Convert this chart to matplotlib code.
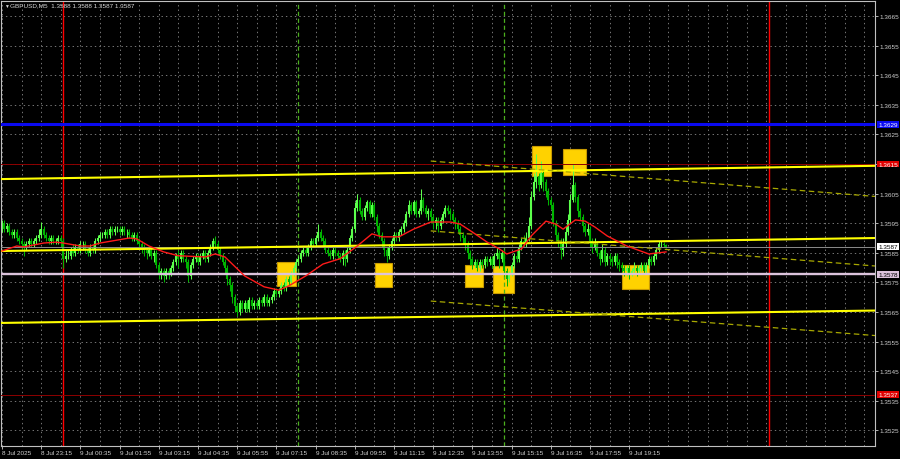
import numpy as np
import matplotlib.pyplot as plt
import matplotlib.transforms as mtransforms
from matplotlib.patches import Rectangle

plt.rcParams['font.family'] = ['Liberation Sans', 'DejaVu Sans']
plt.rcParams['lines.scale_dashes'] = False

# prices are kept in pips above this base level (1 pip = 0.0001)
base = 1.35

# GBPUSD M5 candles, bar 0 = 8 Jul 21:55
first_open = 94
close_pips = [
    95, 93, 94, 92, 91, 92, 90, 89, 88, 87,
    88, 89, 88, 89, 90, 91, 93, 91, 90, 89,
    90, 89, 89, 90, 89, 83, 84, 84, 86, 85,
    87, 86, 88, 88, 86, 85, 87, 86, 89, 90,
    91, 91, 92, 91, 93, 92, 93, 93, 92, 93,
    92, 92, 91, 90, 91, 89, 88, 87, 86, 85,
    86, 84, 85, 81, 78, 79, 77, 79, 78, 80,
    82, 84, 83, 85, 83, 82, 77, 81, 83, 84,
    82, 84, 85, 83, 85, 87, 89, 88, 86, 84,
    82, 80, 76, 74, 70, 67, 65, 68, 66, 68,
    66, 69, 67, 68, 67, 69, 68, 70, 68, 69,
    70, 72, 71, 72, 74, 73, 76, 75, 78, 80,
    82, 83, 85, 86, 85, 87, 89, 88, 90, 92,
    90, 89, 86, 85, 84, 86, 85, 84, 83, 85,
    83, 86, 90, 93, 100, 103, 99, 97, 100, 102,
    98, 101, 97, 94, 91, 89, 86, 84, 87, 89,
    91, 90, 92, 93, 95, 98, 101, 99, 102, 98,
    99, 103, 100, 98, 99, 97, 95, 96, 94, 96,
    98, 100, 99, 98, 96, 95, 93, 91, 90, 88,
    85, 83, 81, 82, 80, 82, 81, 83, 82, 83,
    81, 84, 85, 83, 85, 79, 76, 78, 81, 84,
    83, 87, 89, 88, 90, 94, 104, 109, 111, 108,
    112, 109, 106, 103, 101, 95, 91, 89, 86, 88,
    92, 96, 103, 108, 104, 99, 97, 94, 92, 93,
    89, 87, 88, 85, 83, 86, 82, 84, 83, 82,
    84, 82, 81, 80, 79, 80, 78, 79, 80, 79,
    80, 81, 79, 81, 83, 82, 84, 86, 88, 88,
    87.5, 87,
]
high_pips = [
    96, 96, 95, 95, 93, 93, 93, 91, 90, 89,
    89, 90, 90, 90, 91, 93, 95.4, 94, 92, 91,
    91, 91, 90, 91, 91, 90, 86, 86, 87, 88,
    88, 88, 89, 89, 89, 87, 88, 88, 90, 91,
    92, 92, 93, 93, 94, 94, 94, 94, 94, 94,
    94, 93, 93, 92, 92, 92, 90, 89, 88, 87,
    87, 87, 86, 86, 82, 80, 80, 80, 80, 81,
    83, 85, 86, 86, 86, 84, 83, 82, 84, 85,
    85, 85, 86, 86, 86, 88, 90, 90.7, 89, 87,
    85, 83, 81, 77, 75, 71, 68, 69, 69, 69,
    69, 70, 70, 69, 69, 70, 70, 71, 71, 70,
    71, 73, 73, 73, 75, 75, 77, 77, 79, 81,
    83, 84, 86, 87, 87, 88, 90, 90, 91, 94.7,
    93, 91, 90, 87, 86, 87, 87, 86, 85, 86,
    86, 87, 91, 94, 102, 105, 104, 100, 101, 103,
    103, 102, 102, 98, 95, 92, 90, 87, 88, 90,
    92, 92, 93, 94, 96, 99, 103, 102, 103, 103,
    100, 106.6, 104, 101, 100, 100, 98, 97, 97, 97,
    99, 101, 101, 100, 99, 97, 96, 94, 92, 91,
    89, 86, 84, 83, 83, 83, 83, 84, 84, 84,
    84, 85, 87, 86, 86, 86, 80, 79, 82, 85,
    86, 88, 90, 91, 92, 97, 106, 112, 118.4, 112,
    116, 113, 110, 107, 104, 102, 96, 92, 90, 90,
    94, 98, 105, 115, 109, 105, 100, 98, 95, 95,
    94, 90, 90, 89, 86, 88, 87, 85, 85, 84,
    85, 85, 83, 82, 81, 81, 81, 80, 82, 81,
    81, 82, 82, 82, 84, 84, 85, 87, 89, 89,
    88.5, 88,
]
low_pips = [
    92, 92, 92, 91, 90, 90, 89, 88, 86, 84,
    86, 87, 87, 87, 88, 89, 90, 90, 89, 88,
    88, 88, 88, 88, 87, 80, 82, 83, 83, 84,
    84, 85, 85, 86, 85, 84, 84, 85, 85, 88,
    89, 90, 90, 90, 90, 91, 91, 92, 91, 91,
    91, 90, 90, 89, 89, 88, 87, 85, 84, 83,
    84, 83, 82, 80, 76, 76, 75, 76, 76, 77,
    79, 81, 80, 82, 82, 80, 75, 76, 80, 82,
    81, 81, 83, 82, 82, 84, 86, 87, 85, 83,
    81, 78, 74, 72, 68, 65, 63.6, 64, 65, 65,
    65, 65, 66, 66, 66, 66, 67, 67, 67, 67,
    68, 69, 70, 70, 71, 72, 72, 74, 74, 77,
    79, 81, 82, 84, 84, 84, 86, 87, 87, 89,
    89, 87, 85, 84, 83, 83, 84, 83, 82, 81,
    80.5, 82, 85, 89, 92, 99, 98, 96, 96, 99,
    97, 97, 96, 92, 90, 87, 84, 82, 83, 86,
    88, 89, 89, 91, 92, 94, 97, 98, 98, 97,
    97, 98, 99, 97, 96, 95, 93, 93, 92, 93,
    95, 97, 98, 96, 95, 93, 92, 89, 88, 86,
    83, 81, 79.5, 80, 79, 79, 80, 80, 80.5, 81,
    80, 80, 83, 80, 82, 77, 73.8, 75, 77, 80,
    82, 82, 86, 87, 87, 89, 93, 103, 107, 106,
    107, 106, 104, 101, 99.8, 94, 89, 87, 83, 84,
    87, 91, 95, 102, 102, 97, 96, 92, 90.7, 91,
    87, 85, 86, 84, 81, 82, 80.5, 81, 81, 80.5,
    81, 80, 79, 78.5, 77, 77, 76, 77, 78, 77,
    78, 79, 78, 78, 80, 81, 81, 83, 85, 87,
    87, 86.5,
]

# red moving average (bar, pips)
ma_bars = [0, 6, 9, 17, 22, 25, 32, 36, 40, 52, 55, 60, 66, 72, 83, 87, 91,
           99, 107, 113, 117, 124, 131, 138, 145, 151, 155, 162, 168, 175,
           183, 187, 192, 198, 203, 206, 212, 216, 222, 226, 229, 234, 238,
           242, 247, 255, 264, 271]
ma_pips = [85.6, 87.3, 87.0, 88.3, 88.6, 88.3, 87.3, 87.3, 88.3, 90.0, 89.7,
           87.3, 85.3, 84.0, 83.6, 84.6, 83.6, 77.2, 73.5, 72.4, 73.8, 77.2,
           81.2, 83.0, 87.3, 91.4, 90.4, 90.4, 93.0, 95.4, 95.4, 94.7, 92.0,
           88.6, 86.3, 84.6, 86.3, 90.7, 95.7, 94.7, 93.0, 96.1, 95.7, 93.7,
           90.7, 87.3, 84.6, 85.3]

# signal boxes: first bar, last bar, low, high (pips)
box_x0 = [112.2, 152.2, 189.0, 200.4, 216.3, 229.0, 253.1]
box_x1 = [120.0, 159.2, 196.3, 209.0, 224.1, 238.4, 264.1]
box_lo = [73.8, 73.4, 73.4, 71.4, 110.9, 111.3, 72.8]
box_hi = [81.9, 81.6, 80.9, 80.5, 121.1, 120.1, 80.9]

# channel lines (start bar, end bar, start pips, end pips)
solid_x = [-1, 357]
solid_upper = [109.9, 114.4]
solid_mid = [85.6, 90.0]
solid_lower = [61.3, 65.5]
dash_x = [175, 357]
dash_upper = [116.0, 104.0]
dash_mid = [92.4, 80.5]
dash_lower = [68.7, 57.0]

level_blue = 128.5
level_red_hi = 115.0
level_pink = 77.8
level_bid = 87.0
level_red_lo = 37.0

day_bars = [25, 313]       # midnight separators
session_bars = [121, 205]  # 08:00 and 15:00

time_labels = ['8 Jul 2025', '8 Jul 23:15', '9 Jul 00:35', '9 Jul 01:55',
               '9 Jul 03:15', '9 Jul 04:35', '9 Jul 05:55', '9 Jul 07:15',
               '9 Jul 08:35', '9 Jul 09:55', '9 Jul 11:15', '9 Jul 12:35',
               '9 Jul 13:55', '9 Jul 15:15', '9 Jul 16:35', '9 Jul 17:55',
               '9 Jul 19:15']


def px(p):
    return base + np.asarray(p, dtype=float) / 10000


closes = px(close_pips)
highs = px(high_pips)
lows = px(low_pips)
opens = np.r_[px(first_open), closes[:-1]]
bars = np.arange(len(closes))

fig = plt.figure(figsize=(9, 4.6), dpi=100, facecolor='black')
ax = fig.add_axes([1 / 900, 13 / 460, 874 / 900, 445 / 460])
ax.set_facecolor('black')
ax.set_axisbelow(True)

# signal boxes
for a, b, lo, hi in zip(box_x0, box_x1, box_lo, box_hi):
    ax.add_patch(Rectangle((a, px(lo)), b - a, px(hi) - px(lo),
                           facecolor='#FFD200', edgecolor='#C89A00', lw=0.8, zorder=1))

# vertical separators
for b in day_bars:
    ax.axvline(b, color='#FF0000', lw=1.0, zorder=1.5)
for b in session_bars:
    ax.axvline(b, color='#4CB01E', lw=0.9, ls=(0, (3, 2)), zorder=1.5)

# candles
up = closes >= opens
col = np.where(up, '#5CFF4C', '#00B400')
ax.vlines(bars, lows, highs, colors=col, lw=0.75, zorder=2)
ax.vlines(bars, np.minimum(opens, closes), np.maximum(opens, closes), colors=col, lw=1.5, zorder=2)

# horizontal levels
ax.axhline(px(level_red_hi), color='#8E0000', lw=0.7, zorder=3)
ax.axhline(px(level_red_lo), color='#8E0000', lw=0.7, zorder=3)
ax.axhline(px(level_bid), color='#8C8C8C', lw=0.7, zorder=3)
ax.axhline(px(level_pink), color='#DCC3DC', lw=1.7, zorder=3)
ax.axhline(px(level_blue), color='#0A0AF0', lw=2.2, zorder=3)

# channel lines
for ys in (solid_upper, solid_mid, solid_lower):
    ax.plot(solid_x, px(ys), color='#FFFF00', lw=1.5, zorder=3.2)
for ys in (dash_upper, dash_mid, dash_lower):
    ax.plot(dash_x, px(ys), color='#A8A800', lw=0.9, ls=(0, (4, 2.5)), zorder=3.2)

# moving average
ax.plot(ma_bars, px(ma_pips), color='#FF1A1A', lw=1.0, zorder=4)

ax.set_xlim(-0.4, 356.3)
ax.set_ylim(1.351973, 1.367007)

# axes, ticks, grid
ax.yaxis.tick_right()
yt = np.arange(1.3525, 1.36651, 0.001)
ax.set_yticks(yt)
ax.set_yticklabels([f'{v:.4f}' for v in yt])
ax.set_xticks(np.arange(0, 16 * len(time_labels), 16))
ax.set_xticklabels(time_labels, ha='left')
ax.set_xticks(np.arange(8, 357, 8), minor=True)
ax.tick_params(axis='x', which='minor', length=0)
ax.tick_params(axis='both', which='major', colors='#D0D0D0', labelsize=4.6,
               length=2, width=0.6, pad=1.2)
ax.grid(True, which='both', color='#8A8A8A', lw=0.6, ls=(0, (1, 2.2)))
for s in ax.spines.values():
    s.set_color('#C0C0C0')
    s.set_linewidth(0.8)

# price labels on the right scale
tr = mtransforms.blended_transform_factory(ax.transAxes, ax.transData)
tags = [(level_blue, '1.3629', '#0A0AF0', 'white'),
        (level_red_hi, '1.3615', '#E00000', 'white'),
        (level_bid, '1.3587', 'white', 'black'),
        (level_pink, '1.3578', '#DCC3DC', 'black'),
        (level_red_lo, '1.3537', '#E00000', 'white')]
for lvl, txt, bg, fg in tags:
    ax.text(1.0035, px(lvl), txt, transform=tr, ha='left', va='center',
            fontsize=4.6, color=fg, clip_on=False, zorder=10,
            bbox=dict(boxstyle='square,pad=0.15', fc=bg, ec='none'))

# chart header
fig.text(4 / 900, 1 - 6 / 460, '\u25bc', color='#D8D8D8', fontsize=3.5, va='center')
fig.text(10 / 900, 1 - 6 / 460, 'GBPUSD,M5  1.3588 1.3588 1.3587 1.3587',
         color='#D8D8D8', fontsize=4.6, va='center')

fig.savefig('out.png', dpi=100, facecolor='black')
